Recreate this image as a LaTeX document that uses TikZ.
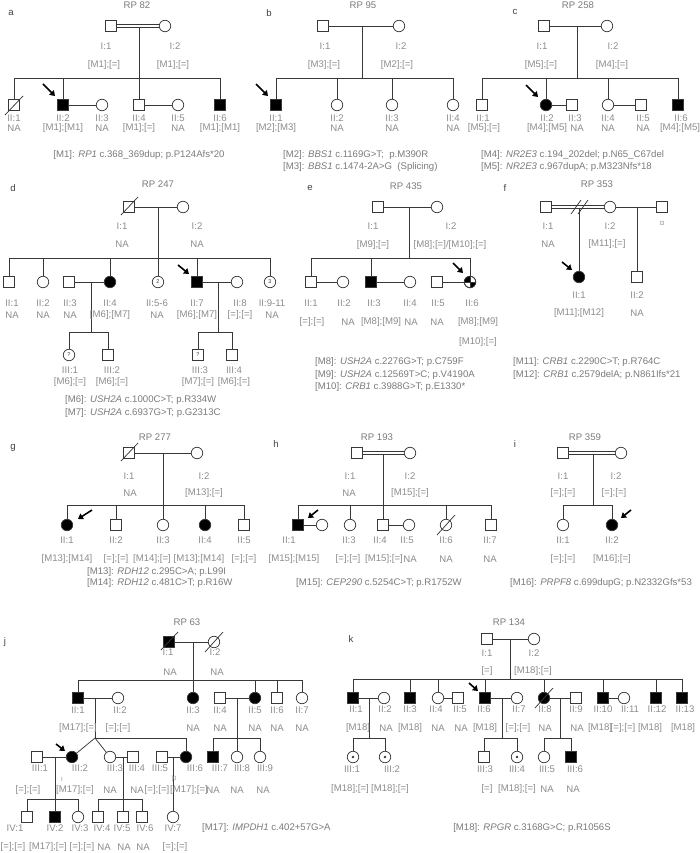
\documentclass[tikz,border=0pt]{standalone}
\usepackage{fontspec}
\setmainfont{Liberation Sans}
\usetikzlibrary{arrows.meta}
\definecolor{lbl}{HTML}{8C8C8C}
\definecolor{lgd}{HTML}{7A7A7A}
\definecolor{ln}{HTML}{383838}
\newcommand\lrow[2]{\foreach \n/\x/\t in {#2} {\node[lab] (\n) at (\x,#1) {\t};}}
\newcommand\consl[2]{\draw[rel,line width=0.6pt] ([yshift=1.4pt]#1.east) -- ([yshift=1.4pt]#2.west);
 \draw[rel,line width=0.6pt] ([yshift=-1.4pt]#1.east) -- ([yshift=-1.4pt]#2.west);}
\begin{document}
\begin{tikzpicture}[x=1pt,y=-1pt,
 sq/.style={draw=ln,line width=0.75pt,rectangle,minimum size=11pt,inner sep=0pt,fill=white},
 sqf/.style={sq,fill=black},
 ci/.style={draw=ln,line width=0.75pt,circle,minimum size=11.5pt,inner sep=0pt,fill=white},
 cif/.style={ci,fill=black},
 cin/.style={ci,text=ln,font=\fontsize{5.5}{6}\selectfont},
 sqn/.style={sq,text=ln,font=\fontsize{5.5}{6}\selectfont},
 rel/.style={draw=ln,line width=0.75pt},
 lab/.style={text=lbl,font=\fontsize{9.6}{10}\selectfont,inner sep=0pt},
 tiny/.style={text=lbl,font=\fontsize{6}{6}\selectfont,inner sep=0pt},
 leg/.style={text=lgd,font=\fontsize{9.6}{10}\selectfont,inner sep=0pt,anchor=west},
 legc/.style={text=lgd,font=\fontsize{9.6}{10}\selectfont,inner sep=0pt},
 ttl/.style={text=lgd,font=\fontsize{9.6}{10}\selectfont,inner sep=0pt},
 pnl/.style={text=black!75,font=\fontsize{9.6}{10}\selectfont,inner sep=0pt},
 prb/.style={draw=black,line width=1.6pt,-{Triangle[length=5pt,width=6.5pt]}},
]
\useasboundingbox (0,0) rectangle (700,853);

% ================= a =================
\node[pnl] (pa) at (11,13) {a};
\node[ttl] (ta) at (137,5) {RP 82};
\node[sq] (a11) at (111,26) {};
\node[ci] (a12) at (165,26) {};
\consl{a11}{a12}
\coordinate (am) at (139,27.4); \coordinate (as) at (139,78);
\node[sq] (a21) at (14,105) {};
\node[sqf] (a22) at (63,105) {};
\node[ci] (a23) at (102,105) {};
\node[sq] (a24) at (139,105) {};
\node[ci] (a25) at (178,105) {};
\node[sqf] (a26) at (220,105) {};
\draw[rel] (am) -- (as);
\draw[rel] (as -| a21) -- (as -| a26);
\foreach \c in {a21,a22,a24,a26} \draw[rel] (as -| \c) -- (\c);
\draw[rel] (a22) -- (a23); \draw[rel] (a24) -- (a25);
\draw[rel] ([shift={(-9,10)}]a21.center) -- ([shift={(9,-9)}]a21.center);
\draw[prb] ([shift={(-20,-21)}]a22.center) -- ([shift={(-8,-9)}]a22.center);
\lrow{46}{aL11/106/I:1, aL12/175/I:2}
\lrow{65}{aG11/104/[M1];[=], aG12/173/[M1];[=]}
\lrow{118}{aL21/14/II:1, aL22/63/II:2, aL23/102/II:3, aL24/139/II:4, aL25/178/II:5, aL26/220/II:6}
\lrow{128}{aG21/14/NA, aG22/63/[M1];[M1], aG23/102/NA, aG24/139/[M1];[=], aG25/178/NA, aG26/220/[M1];[M1]}
\node[legc] (aLg) at (139,155) {[M1]: \textit{RP1} c.368\_369dup; p.P124Afs*20};

% ================= b =================
\node[pnl] (pb) at (269,13) {b};
\node[ttl] (tb) at (363,5) {RP 95};
\node[sq] (b11) at (323,26) {};
\node[ci] (b12) at (399,26) {};
\draw[rel] (b11) -- (b12);
\coordinate (bm) at (362,26); \coordinate (bs) at (362,78);
\node[sqf] (b21) at (276,105) {};
\node[ci] (b22) at (337,105) {};
\node[ci] (b23) at (392,105) {};
\node[ci] (b24) at (453,105) {};
\draw[rel] (bm) -- (bs);
\draw[rel] (bs -| b21) -- (bs -| b24);
\foreach \c in {b21,b22,b23,b24} \draw[rel] (bs -| \c) -- (\c);
\draw[prb] ([shift={(-20,-21)}]b21.center) -- ([shift={(-8,-9)}]b21.center);
\lrow{46}{bL11/325/I:1, bL12/401/I:2}
\lrow{65}{bG11/324/[M3];[=], bG12/397/[M2];[=]}
\lrow{118}{bL21/276/II:1, bL22/337/II:2, bL23/392/II:3, bL24/453/II:4}
\lrow{128}{bG21/276/[M2];[M3], bG22/337/NA, bG23/392/NA, bG24/453/NA}
\node[leg] (bLg1) at (283,155) {[M2]: \textit{BBS1} c.1169G>T;\ \ p.M390R};
\node[leg] (bLg2) at (283,167) {[M3]: \textit{BBS1} c.1474-2A>G\ \ (Splicing)};

% ================= c =================
\node[pnl] (pc) at (515,12) {c};
\node[ttl] (tc) at (578,5) {RP 258};
\node[sq] (c11) at (544,26) {};
\node[ci] (c12) at (607,26) {};
\draw[rel] (c11) -- (c12);
\coordinate (cm) at (577,26); \coordinate (cs) at (577,78);
\node[sq] (c21) at (482,105) {};
\node[cif] (c22) at (546,105) {};
\node[sq] (c23) at (572,105) {};
\node[ci] (c24) at (608,105) {};
\node[sq] (c25) at (641,105) {};
\node[sqf] (c26) at (678,105) {};
\draw[rel] (cm) -- (cs);
\draw[rel] (cs -| c21) -- (cs -| c26);
\foreach \c in {c21,c22,c24,c26} \draw[rel] (cs -| \c) -- (\c);
\draw[rel] (c22) -- (c23); \draw[rel] (c24) -- (c25);
\draw[prb] ([shift={(-20,-20)}]c22.center) -- ([shift={(-8,-8)}]c22.center);
\lrow{46}{cL11/542/I:1, cL12/613/I:2}
\lrow{65}{cG11/541/[M5];[=], cG12/612/[M4];[=]}
\lrow{118}{cL21/483/II:1, cL22/547/II:2, cL23/575/II:3, cL24/608/II:4, cL25/643/II:5, cL26/681/II:6}
\lrow{128}{cG21/484/[M5];[=], cG22/547/[M4];[M5], cG23/577/NA, cG24/608/NA, cG25/643/NA, cG26/680/[M4];[M5]}
\node[leg] (cLg1) at (481,155) {[M4]: \textit{NR2E3} c.194\_202del; p.N65\_C67del};
\node[leg] (cLg2) at (481,167) {[M5]: \textit{NR2E3} c.967dupA; p.M323Nfs*18};

% ================= d =================
\node[pnl] (pd) at (13,188) {d};
\node[ttl] (td) at (158,184) {RP 247};
\node[sq] (d11) at (129,207) {};
\node[ci] (d12) at (183,207) {};
\draw[rel] (d11) -- (d12);
\draw[rel] ([shift={(-8,8)}]d11.center) -- ([shift={(9,-10)}]d11.center);
\coordinate (dm) at (158,207); \coordinate (ds) at (158,258);
\node[sq] (d21) at (9,282) {};
\node[ci] (d22) at (43,282) {};
\node[sq] (d23) at (69,282) {};
\node[cif] (d24) at (110,282) {};
\node[cin] (d25) at (158,282) {2};
\node[sqf] (d27) at (197,282) {};
\node[ci] (d28) at (237,282) {};
\node[cin] (d29) at (270,282) {3};
\draw[rel] (dm) -- (ds);
\draw[rel] (ds -| d21) -- (ds -| d29);
\foreach \c in {d21,d22,d24,d25,d27,d29} \draw[rel] (ds -| \c) -- (\c);
\draw[rel] (d23) -- (d24); \draw[rel] (d27) -- (d28);
\coordinate (dm2) at (91,282); \coordinate (ds2) at (91,332);
\node[cin] (d31) at (69,355) {?};
\node[sq] (d32) at (108,355) {};
\draw[rel] (dm2) -- (ds2);
\draw[rel] (ds2 -| d31) -- (ds2 -| d32);
\foreach \c in {d31,d32} \draw[rel] (ds2 -| \c) -- (\c);
\coordinate (dm3) at (218,282); \coordinate (ds3) at (218,332);
\node[sqn] (d33) at (198,355) {?};
\node[sq] (d34) at (232,355) {};
\draw[rel] (dm3) -- (ds3);
\draw[rel] (ds3 -| d33) -- (ds3 -| d34);
\foreach \c in {d33,d34} \draw[rel] (ds3 -| \c) -- (\c);
\draw[prb] ([shift={(-19,-17)}]d27.center) -- ([shift={(-8,-8)}]d27.center);
\lrow{226}{dL11/122/I:1, dL12/197/I:2}
\lrow{244}{dG11/122/NA, dG12/197/NA}
\lrow{303}{dL21/12/II:1, dL22/43/II:2, dL23/70/II:3, dL24/110/II:4, dL25/157/II:5-6, dL27/197/II:7, dL28/240/II:8, dL29/272/II:9-11}
\lrow{315}{dG21/12/NA, dG22/43/NA, dG23/70/NA, dG24/110/[M6];[M7], dG25/157/NA, dG27/197/[M6];[M7], dG28/240/[=];[=], dG29/272/NA}
\lrow{370}{dL31/70/III:1, dL32/112/III:2, dL33/200/III:3, dL34/234/III:4}
\lrow{382}{dG31/70/[M6];[=], dG32/112/[M6];[=], dG33/198/[M7];[=], dG34/234/[M6];[=]}
\node[leg] (dLg1) at (65,400) {[M6]: \textit{USH2A} c.1000C>T; p.R334W};
\node[leg] (dLg2) at (65,413) {[M7]: \textit{USH2A} c.6937G>T; p.G2313C};

% ================= e =================
\node[pnl] (pe) at (310,188) {e};
\node[ttl] (te) at (406,186) {RP 435};
\node[sq] (e11) at (378,207) {};
\node[ci] (e12) at (437,207) {};
\draw[rel] (e11) -- (e12);
\coordinate (em) at (409,207); \coordinate (es) at (409,258);
\node[sq] (e21) at (311,282) {};
\node[ci] (e22) at (343,282) {};
\node[sqf] (e23) at (371,282) {};
\node[ci] (e24) at (410,282) {};
\node[sq] (e25) at (437,282) {};
\node[ci] (e26) at (470,282) {};
\begin{scope}[shift={(470,282)},y=1pt]
 \fill[black] (0,0) -- (-5.75,0) arc[start angle=180,end angle=90,radius=5.75] -- cycle;
 \fill[black] (0,0) -- (5.75,0) arc[start angle=0,end angle=-90,radius=5.75] -- cycle;
 \draw[ln,line width=0.6pt] (-5.75,0) -- (5.75,0) (0,-5.75) -- (0,5.75);
 \draw[ln,line width=0.75pt] (0,0) circle[radius=5.75];
\end{scope}
\draw[rel] (em) -- (es);
\draw[rel] (es -| e21) -- (es -| e26);
\foreach \c in {e21,e23,e26} \draw[rel] (es -| \c) -- (\c);
\draw[rel] (e21) -- (e22); \draw[rel] (e23) -- (e24); \draw[rel] (e25) -- (e26);
\draw[prb] ([shift={(-17,-19)}]e26.center) -- ([shift={(-7,-9)}]e26.center);
\lrow{226}{eL11/373/I:1, eL12/451/I:2}
\node[lab] (eG11) at (373,245) {[M9];[=]};
\node[lab] (eG12) at (450,245) {[M8];[=]/[M10];[=]};
\lrow{303}{eL21/311/II:1, eL22/344/II:2, eL23/374/II:3, eL24/410/II:4, eL25/438/II:5, eL26/472/II:6}
\lrow{322}{eG21/312/[=];[=], eG22/348/NA, eG23/381/[M8];[M9], eG24/411/NA, eG25/437/NA, eG26/478/[M8];[M9]}
\node[lab] (eG26b) at (478,342) {[M10];[=]};
\node[leg] (eLg1) at (315,362) {[M8]: \textit{USH2A} c.2276G>T; p.C759F};
\node[leg] (eLg2) at (315,375) {[M9]: \textit{USH2A} c.12569T>C; p.V4190A};
\node[leg] (eLg3) at (315,387) {[M10]: \textit{CRB1} c.3988G>T; p.E1330*};

% ================= f =================
\node[pnl] (pf) at (505,188) {f};
\node[ttl] (tf) at (597,184) {RP 353};
\node[sq] (f11) at (546,207) {};
\node[ci] (f12) at (610,207) {};
\node[sq] (f13) at (662,207) {};
\consl{f11}{f12}
\draw[rel] (f12) -- (f13);
\draw[rel] (571,214) -- (581,200); \draw[rel] (578,214) -- (588,200);
\coordinate (fm) at (579,208.4); \coordinate (fm2) at (637,207);
\node[cif] (f21) at (579,277) {};
\node[sq] (f22) at (637,277) {};
\draw[rel] (fm) -- (f21);
\draw[rel] (fm2) -- (f22);
\draw[prb] ([shift={(-17,-15)}]f21.center) -- ([shift={(-7,-7)}]f21.center);
\lrow{226}{fL11/548/I:1, fL12/610/I:2}
\node[tiny] (fL13) at (662,223) {I3};
\lrow{244}{fG11/548/NA, fG12/607/[M11];[=]}
\lrow{295}{fL21/579/II:1, fL22/637/II:2}
\lrow{313}{fG21/579/[M11];[M12], fG22/637/NA}
\node[leg] (fLg1) at (513,362) {[M11]: \textit{CRB1} c.2290C>T; p.R764C};
\node[leg] (fLg2) at (513,375) {[M12]: \textit{CRB1} c.2579delA; p.N861Ifs*21};

% ================= g =================
\node[pnl] (pg) at (13,448) {g};
\node[ttl] (tg) at (155,437) {RP 277};
\node[sq] (g11) at (129,453) {};
\node[ci] (g12) at (197,453) {};
\draw[rel] (g11) -- (g12);
\draw[rel] ([shift={(-8,8)}]g11.center) -- ([shift={(9,-10)}]g11.center);
\coordinate (gm) at (163,453); \coordinate (gs) at (163,505);
\node[cif] (g21) at (67,525) {};
\node[sq] (g22) at (116,525) {};
\node[ci] (g23) at (163,525) {};
\node[cif] (g24) at (205,525) {};
\node[sq] (g25) at (244,525) {};
\draw[rel] (gm) -- (gs);
\draw[rel] (gs -| g21) -- (gs -| g25);
\foreach \c in {g21,g22,g23,g24,g25} \draw[rel] (gs -| \c) -- (\c);
\draw[prb] ([shift={(25,-15)}]g21.center) -- ([shift={(11,-6)}]g21.center);
\lrow{476}{gL11/129/I:1, gL12/204/I:2}
\lrow{493}{gG11/130/NA, gG12/204/[M13];[=]}
\lrow{540}{gL21/67/II:1, gL22/116/II:2, gL23/163/II:3, gL24/205/II:4, gL25/244/II:5}
\lrow{559}{gG21/67/[M13];[M14], gG22/116/[=];[=], gG23/152/[M14];[=], gG24/199/[M13];[M14], gG25/244/[=];[=]}
\node[leg] (gLg1) at (87,572) {[M13]: \textit{RDH12} c.295C>A; p.L99I};
\node[leg] (gLg2) at (87,583) {[M14]: \textit{RDH12} c.481C>T; p.R16W};

% ================= h =================
\node[pnl] (ph) at (276,444) {h};
\node[ttl] (th) at (377,437) {RP 193};
\node[sq] (h11) at (357,453) {};
\node[ci] (h12) at (410,453) {};
\consl{h11}{h12}
\coordinate (hm) at (383,454.4); \coordinate (hs) at (383,505);
\node[sqf] (h21) at (298,525) {};
\node[ci] (h22) at (322,525) {};
\node[ci] (h23) at (350,525) {};
\node[sq] (h24) at (383,525) {};
\node[ci] (h25) at (409,525) {};
\node[ci] (h26) at (446,525) {};
\node[sq] (h27) at (491,525) {};
\draw[rel] (hm) -- (hs);
\draw[rel] (hs -| h21) -- (hs -| h27);
\foreach \c in {h21,h23,h24,h26,h27} \draw[rel] (hs -| \c) -- (\c);
\draw[rel] (h21) -- (h22); \draw[rel] (h24) -- (h25);
\draw[rel] ([shift={(-9,10)}]h26.center) -- ([shift={(9,-10)}]h26.center);
\draw[prb] ([shift={(20,-15)}]h21.center) -- ([shift={(10,-7)}]h21.center);
\lrow{476}{hL11/350/I:1, hL12/410/I:2}
\lrow{493}{hG11/349/NA, hG12/410/[M15];[=]}
\lrow{540}{hL21/289/II:1, hL23/349/II:3, hL24/380/II:4, hL25/407/II:5, hL26/446/II:6, hL27/490/II:7}
\lrow{559}{hG21/294/[M15];[M15], hG23/348/[=];[=], hG24/384/[M15];[=], hG25/410/NA, hG26/446/NA, hG27/490/NA}
\node[legc] (hLg) at (379,583) {[M15]: \textit{CEP290} c.5254C>T; p.R1752W};

% ================= i =================
\node[pnl] (pi) at (515,444) {i};
\node[ttl] (ti) at (585,437) {RP 359};
\node[sq] (i11) at (563,453) {};
\node[ci] (i12) at (621,453) {};
\consl{i11}{i12}
\coordinate (im) at (593,454.4); \coordinate (is) at (593,505);
\node[ci] (i21) at (563,525) {};
\node[cif] (i22) at (612,525) {};
\draw[rel] (im) -- (is);
\draw[rel] (is -| i21) -- (is -| i22);
\foreach \c in {i21,i22} \draw[rel] (is -| \c) -- (\c);
\draw[prb] ([shift={(19,-15)}]i22.center) -- ([shift={(9,-7)}]i22.center);
\lrow{476}{iL11/563/I:1, iL12/616/I:2}
\lrow{493}{iG11/563/[=];[=], iG12/614/[=];[=]}
\lrow{540}{iL21/563/II:1, iL22/612/II:2}
\lrow{559}{iG21/563/[=];[=], iG22/612/[M16];[=]}
\node[legc] (iLg) at (601,583) {[M16]: \textit{PRPF8} c.699dupG; p.N2332Gfs*53};

% ================= j =================
\node[pnl] (pj) at (5,642) {j};
\node[ttl] (tj) at (187,622) {RP 63};
\node[sqf] (j11) at (169,642) {};
\node[ci] (j12) at (214,642) {};
\draw[rel] (j11) -- (j12);
\draw[rel] ([shift={(-8,8)}]j11.center) -- ([shift={(9,-10)}]j11.center);
\draw[rel] ([shift={(-9,10)}]j12.center) -- ([shift={(9,-10)}]j12.center);
\coordinate (jm) at (193,642); \coordinate (js) at (193,680);
\node[sqf] (j21) at (78,698) {};
\node[ci] (j22) at (118,698) {};
\node[cif] (j23) at (193,698) {};
\node[sq] (j24) at (220,698) {};
\node[cif] (j25) at (255,698) {};
\node[sq] (j26) at (277,698) {};
\node[ci] (j27) at (302,698) {};
\draw[rel] (jm) -- (js);
\draw[rel] (js -| j21) -- (js -| j27);
\foreach \c in {j21,j23,j25,j26,j27} \draw[rel] (js -| \c) -- (\c);
\draw[rel] (j21) -- (j22); \draw[rel] (j24) -- (j25);
% III
\node[sq] (j31) at (37,757) {};
\node[cif] (j32) at (72,757) {};
\node[ci] (j33) at (110,757) {};
\node[sq] (j34) at (133,757) {};
\node[sq] (j35) at (162,757) {};
\node[cif] (j36) at (186,757) {};
\node[sqf] (j37) at (213,757) {};
\node[ci] (j38) at (237,757) {};
\node[ci] (j39) at (260,757) {};
\coordinate (jm2) at (95,698); \coordinate (jt) at (95,738);
\draw[rel] (jm2) -- (jt);
\draw[rel] (jt) -- (j32); \draw[rel] (jt) -- (j33);
\draw[rel] (jt) -- (jt -| j36) -- (j36);
\coordinate (jm3) at (237,698); \coordinate (js3) at (237,738);
\draw[rel] (jm3) -- (js3);
\draw[rel] (js3 -| j37) -- (js3 -| j39);
\foreach \c in {j37,j38,j39} \draw[rel] (js3 -| \c) -- (\c);
\draw[rel] (j31) -- (j32); \draw[rel] (j33) -- (j34); \draw[rel] (j35) -- (j36);
\draw[prb] ([shift={(-16,-13)}]j32.center) -- ([shift={(-7,-6)}]j32.center);
% IV
\node[sq] (j41) at (27,817) {};
\node[sqf] (j42) at (55,817) {};
\node[ci] (j43) at (78,817) {};
\node[sq] (j44) at (98,817) {};
\node[sq] (j45) at (123,817) {};
\node[sq] (j46) at (142,817) {};
\node[ci] (j47) at (173,817) {};
\coordinate (jm4) at (55,757); \coordinate (js4) at (55,799);
\draw[rel] (jm4) -- (js4);
\draw[rel] (js4 -| j41) -- (js4 -| j43);
\foreach \c in {j41,j42,j43} \draw[rel] (js4 -| \c) -- (\c);
\coordinate (jm5) at (123,757); \coordinate (js5) at (123,799);
\draw[rel] (jm5) -- (js5);
\draw[rel] (js5 -| j44) -- (js5 -| j46);
\foreach \c in {j44,j45,j46} \draw[rel] (js5 -| \c) -- (\c);
\coordinate (jm6) at (173,757);
\draw[rel] (jm6) -- (j47);
\lrow{652}{jL11/168/I:1, jL12/215/I:2}
\lrow{672}{jG11/170/NA, jG12/217/NA}
\lrow{710}{jL21/78/II:1, jL22/120/II:2, jL23/193/II:3, jL24/220/II:4, jL25/255/II:5, jL26/277/II:6, jL27/302/II:7}
\lrow{728}{jG21/78/[M17];[=], jG22/118/[=];[=], jG23/193/NA, jG24/220/NA, jG25/255/NA, jG26/277/NA, jG27/302/NA}
\lrow{768}{jL31/40/III:1, jL32/80/III:2, jL33/115/III:3, jL34/137/III:4, jL35/160/III:5, jL36/195/III:6, jL37/220/III:7, jL38/242/III:8, jL39/265/III:9}
\lrow{790}{jG31/28/[=];[=], jG32/75/[M17];[=], jG33/110/NA, jG34/137/NA, jG35/157/[=];[=], jG36/189/[M17];[=], jG37/213/NA, jG38/237/NA, jG39/263/NA}
\node[tiny] (jx1) at (62,779) {I};
\node[tiny] (jx2) at (174,779) {]0};
\lrow{828}{jL41/15/IV:1, jL42/55/IV:2, jL43/80/IV:3, jL44/102/IV:4, jL45/122/IV:5, jL46/145/IV:6, jL47/173/IV:7}
\lrow{847}{jG41/13/[=];[=], jG42/48/[M17];[=], jG43/82/[=];[=], jG44/104/NA, jG45/124/NA, jG46/143/NA, jG47/175/[=];[=]}
\node[leg] (jLg) at (202,828) {[M17]: \textit{IMPDH1} c.402+57G>A};

% ================= k =================
\node[pnl] (pk) at (351,639) {k};
\node[ttl] (tk) at (509,622) {RP 134};
\node[sq] (k11) at (487,639) {};
\node[ci] (k12) at (534,639) {};
\draw[rel] (k11) -- (k12);
\coordinate (km) at (510,639); \coordinate (ks) at (510,679);
\node[sqf] (k21) at (353,698) {};
\node[ci] (k22) at (384,698) {};
\node[sqf] (k23) at (410,698) {};
\node[ci] (k24) at (438,698) {};
\node[sq] (k25) at (458,698) {};
\node[sqf] (k26) at (485,698) {};
\node[ci] (k27) at (517,698) {};
\node[cif] (k28) at (544,698) {};
\node[sq] (k29) at (576,698) {};
\node[sqf] (k2a) at (603,698) {};
\node[ci] (k2b) at (624,698) {};
\node[sqf] (k2c) at (656,698) {};
\node[sqf] (k2d) at (682,698) {};
\draw[rel] (km) -- (ks);
\draw[rel] (ks -| k21) -- (ks -| k2d);
\foreach \c in {k21,k23,k24,k26,k28,k2a,k2c,k2d} \draw[rel] (ks -| \c) -- (\c);
\draw[rel] (k21) -- (k22); \draw[rel] (k24) -- (k25); \draw[rel] (k26) -- (k27);
\draw[rel] (k28) -- (k29); \draw[rel] (k2a) -- (k2b);
\draw[rel] ([shift={(-9,10)}]k28.center) -- ([shift={(9,-10)}]k28.center);
\draw[prb] ([shift={(-16,-15)}]k26.center) -- ([shift={(-7,-7)}]k26.center);
\node[ci] (k31) at (353,757) {};
\node[ci] (k32) at (385,757) {};
\node[sq] (k33) at (484,757) {};
\node[ci] (k34) at (517,757) {};
\node[ci] (k35) at (544,757) {};
\node[sqf] (k36) at (571,757) {};
\foreach \c in {k31,k32,k34} \fill[ln] (\c) circle[radius=1.3];
\coordinate (km2) at (369,698); \coordinate (ks2) at (369,738);
\draw[rel] (km2) -- (ks2);
\draw[rel] (ks2 -| k31) -- (ks2 -| k32);
\foreach \c in {k31,k32} \draw[rel] (ks2 -| \c) -- (\c);
\coordinate (km3) at (502,698); \coordinate (ks3) at (502,738);
\draw[rel] (km3) -- (ks3);
\draw[rel] (ks3 -| k33) -- (ks3 -| k34);
\foreach \c in {k33,k34} \draw[rel] (ks3 -| \c) -- (\c);
\coordinate (km4) at (560,698); \coordinate (ks4) at (560,738);
\draw[rel] (km4) -- (ks4);
\draw[rel] (ks4 -| k35) -- (ks4 -| k36);
\foreach \c in {k35,k36} \draw[rel] (ks4 -| \c) -- (\c);
\lrow{653}{kL11/487/I:1, kL12/534/I:2}
\lrow{671}{kG11/487/[=], kG12/533/[M18];[=]}
\lrow{709}{kL21/356/II:1, kL22/385/II:2, kL23/410/II:3, kL24/436/II:4, kL25/460/II:5, kL26/484/II:6, kL27/519/II:7, kL28/545/II:8, kL29/576/II:9, kL2a/603/II:10, kL2b/630/II:11, kL2c/657/II:12, kL2d/685/II:13}
\lrow{728}{kG21/358/[M18], kG22/386/NA, kG23/410/[M18], kG24/438/NA, kG25/461/NA, kG26/485/[M18], kG27/518/[=];[=], kG28/545/NA, kG29/577/NA, kG2a/600/[M18], kG2b/623/[=];[=], kG2c/650/[M18], kG2d/683/[M18]}
\lrow{769}{kL31/352/III:1, kL32/392/III:2, kL33/485/III:3, kL34/517/III:4, kL35/547/III:5, kL36/575/III:6}
\lrow{789}{kG31/350/[M18];[=], kG32/390/[M18];[=], kG33/487/[=], kG34/517/[M18];[=], kG35/547/NA, kG36/573/NA}
\node[legc] (kLg) at (532,828) {[M18]: \textit{RPGR} c.3168G>C; p.R1056S};
\end{tikzpicture}
\end{document}
